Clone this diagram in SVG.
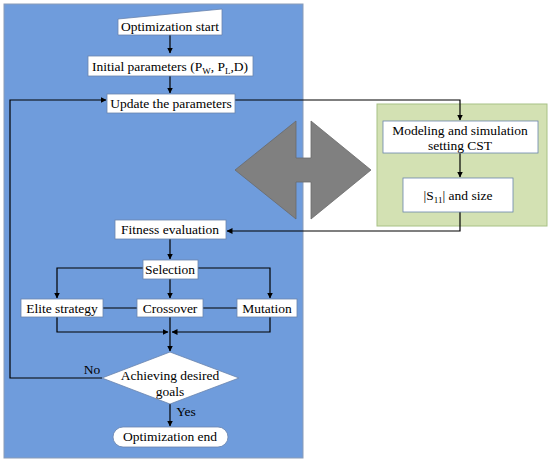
<svg xmlns="http://www.w3.org/2000/svg" width="550" height="464" viewBox="0 0 550 464">
<style>
.box{fill:#fff;stroke:#6a84ad;stroke-width:0.8}
text{font-family:'Liberation Serif','Times New Roman','DejaVu Serif',serif;font-size:13.5px;fill:#000;text-anchor:middle}
.c{fill:none;stroke:#000;stroke-width:1.2}
.ca{fill:none;stroke:#000;stroke-width:1.2;marker-end:url(#ah)}
</style>
<defs>
<marker id="ah" markerWidth="6" markerHeight="6" refX="5.5" refY="3" orient="auto" markerUnits="userSpaceOnUse">
<path d="M0,0 L6,3 L0,6 Z" fill="#000"/>
</marker>
</defs>
<rect width="550" height="464" fill="#fff"/>
<g id="blue-panel"><rect x="4" y="4" width="299" height="454" fill="#6f9cdc" stroke="#8a9cb8" stroke-width="1"/></g>
<g id="green-panel"><rect x="377" y="104" width="170" height="122" fill="#d3e1b3" stroke="#a8c185" stroke-width="1"/></g>
<g id="double-arrow"><polygon points="235,170 296,121 296,158 311,158 311,121 371,170 311,219 311,182 296,182 296,219" fill="#808080" stroke="#6a6a6a" stroke-width="0.8"/></g>
<g id="connectors">
<path class="ca" d="M170,35 V53"/>
<path class="ca" d="M170,76 V93"/>
<path class="ca" d="M235,100 H460 V120"/>
<path class="ca" d="M460,153 V177"/>
<path class="ca" d="M460,212 V231 H227"/>
<path class="ca" d="M170,239 V259"/>
<path class="ca" d="M143,268 H57 V298"/>
<path class="ca" d="M198,268 H270 V298"/>
<path class="ca" d="M170,279 V298"/>
<path class="c" d="M103,308 H137"/>
<path class="c" d="M203,308 H237"/>
<path class="ca" d="M57,317 V332 H168"/>
<path class="ca" d="M270,317 V332 H172"/>
<path class="ca" d="M170,317 V351"/>
<path class="ca" d="M102,378 H10 V100 H106"/>
<path class="ca" d="M170,404 V426"/>
</g>
<g id="start"><polygon class="box" points="118,19 222,9 222,35 118,35"/><text font-family="Liberation Serif, serif" x="170" y="31">Optimization start</text></g>
<g id="init"><rect class="box" x="88" y="56" width="165" height="20"/><text font-family="Liberation Serif, serif" x="170" y="71">Initial parameters (P<tspan font-size="9" dy="3">W</tspan><tspan dy="-3">, P</tspan><tspan font-size="9" dy="3">L</tspan><tspan dy="-3">,D)</tspan></text></g>
<g id="update"><rect class="box" x="107" y="94" width="128" height="19"/><text font-family="Liberation Serif, serif" x="171" y="108">Update the parameters</text></g>
<g id="modeling"><rect class="box" x="383" y="121" width="155" height="32"/><text font-family="Liberation Serif, serif" x="460" y="135">Modeling and simulation</text><text font-family="Liberation Serif, serif" x="460" y="150">setting CST</text></g>
<g id="s11"><rect class="box" x="403" y="178" width="110" height="34"/><text font-family="Liberation Serif, serif" x="458" y="200">|S<tspan font-size="9" dy="3">11</tspan><tspan dy="-3">| and size</tspan></text></g>
<g id="fitness"><rect class="box" x="115" y="220" width="111" height="19"/><text font-family="Liberation Serif, serif" x="170" y="234">Fitness evaluation</text></g>
<g id="selection"><rect class="box" x="143" y="260" width="55" height="19"/><text font-family="Liberation Serif, serif" x="170" y="274">Selection</text></g>
<g id="elite"><rect class="box" x="21" y="299" width="82" height="18"/><text font-family="Liberation Serif, serif" x="62" y="313">Elite strategy</text></g>
<g id="crossover"><rect class="box" x="137" y="299" width="66" height="18"/><text font-family="Liberation Serif, serif" x="170" y="313">Crossover</text></g>
<g id="mutation"><rect class="box" x="237" y="299" width="60" height="18"/><text font-family="Liberation Serif, serif" x="267" y="313">Mutation</text></g>
<g id="decision"><polygon class="box" points="102,378 170,352 239,378 170,404"/><text font-family="Liberation Serif, serif" x="170" y="380">Achieving desired</text><text font-family="Liberation Serif, serif" x="170" y="396">goals</text></g>
<g id="labels"><text font-family="Liberation Serif, serif" x="92" y="374">No</text><text font-family="Liberation Serif, serif" x="186" y="416">Yes</text></g>
<g id="end"><rect class="box" x="113" y="427" width="115" height="20" rx="10" ry="10"/><text font-family="Liberation Serif, serif" x="170" y="441">Optimization end</text></g>
</svg>
